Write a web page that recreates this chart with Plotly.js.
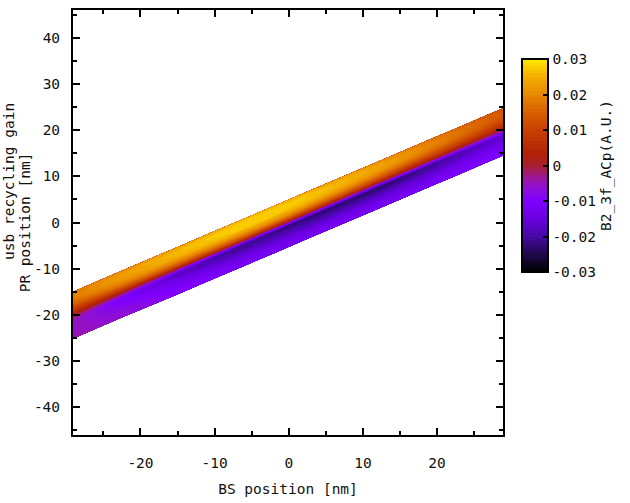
<!DOCTYPE html>
<html>
<head>
<meta charset="utf-8">
<script src="https://cdn.plot.ly/plotly-3.0.1.min.js"></script>
<style>
html,body{margin:0;padding:0;background:#fff;}
#chart{width:630px;height:503px;}
</style>
</head>
<body>
<div id="chart"></div>
<script>
// ---- data ----
// BS positions (nm) where the band was sampled
const bsPos = [-29.1, -22, -15, -8, -1, 6, 13, 20, 28.9];
// band edges in PR position (nm) at each BS position
const bandUpper = [-15.0, -10.1, -5.3, -0.5, 4.3, 9.1, 13.9, 18.7, 24.8];
const bandLower = [-25.2, -20.3, -15.6, -10.8, -6.0, -1.2, 3.6, 8.4, 14.5];
// fractional position across the band (0 = lower edge, 1 = upper edge)
const bandFrac = [0, 0.1, 0.2, 0.3, 0.4, 0.45, 0.5, 0.55, 0.6, 0.7, 0.8, 0.9, 1.0];
// B2_3f_ACp signal across the band, one list per BS position
const signalByBS = [
  [-0.004, -0.005, -0.005, -0.005, -0.004, -0.002, 0.001, 0.004, 0.008, 0.013, 0.017, 0.019, 0.018],
  [-0.006, -0.007, -0.008, -0.010, -0.011, -0.009, -0.003, 0.004, 0.010, 0.018, 0.022, 0.023, 0.021],
  [-0.009, -0.010, -0.012, -0.014, -0.017, -0.016, -0.008, 0.003, 0.011, 0.020, 0.025, 0.026, 0.023],
  [-0.011, -0.012, -0.014, -0.017, -0.020, -0.020, -0.011, 0.004, 0.012, 0.022, 0.027, 0.028, 0.025],
  [-0.012, -0.013, -0.015, -0.018, -0.021, -0.022, -0.012, 0.004, 0.012, 0.022, 0.027, 0.028, 0.025],
  [-0.012, -0.013, -0.015, -0.019, -0.022, -0.023, -0.013, 0.003, 0.011, 0.020, 0.025, 0.026, 0.023],
  [-0.012, -0.013, -0.015, -0.018, -0.022, -0.023, -0.013, 0.002, 0.009, 0.017, 0.022, 0.023, 0.020],
  [-0.011, -0.012, -0.014, -0.017, -0.020, -0.020, -0.011, 0.001, 0.007, 0.014, 0.018, 0.019, 0.017],
  [-0.010, -0.011, -0.012, -0.014, -0.016, -0.015, -0.008, 0.000, 0.005, 0.010, 0.013, 0.014, 0.013]
];
// tick labels
const xTickVals = [-20, -10, 0, 10, 20];
const xTickText = ['-20', '-10', '0', '10', '20'];
const yTickVals = [-40, -30, -20, -10, 0, 10, 20, 30, 40];
const yTickText = ['-40', '-30', '-20', '-10', '0', '10', '20', '30', '40'];
const cbTickVals = [-0.03, -0.02, -0.01, 0, 0.01, 0.02, 0.03];
const cbTickText = ['-0.03', '-0.02', '-0.01', '0', '0.01', '0.02', '0.03'];

// ---- build the carpet grid tables (rows along band fraction, columns along BS) ----
const gridX = bandFrac.map(() => bsPos.slice());
const gridY = bandFrac.map(f => bsPos.map((_, i) => bandLower[i] + f * (bandUpper[i] - bandLower[i])));
const gridZ = bandFrac.map((_, j) => bsPos.map((_, i) => signalByBS[i][j]));

const FONT = 'DejaVu Sans Mono, monospace';
const fnt = {family: FONT, size: 14.5, color: '#111'};

const palette = [
  [0.00, '#000000'],
  [0.08, '#1e0848'],
  [0.17, '#4808a8'],
  [0.25, '#6a00e0'],
  [0.333, '#8000ff'],
  [0.40, '#9010d0'],
  [0.45, '#a01890'],
  [0.50, '#a82030'],
  [0.55, '#b02008'],
  [0.667, '#c84000'],
  [0.75, '#d86000'],
  [0.833, '#e88800'],
  [0.92, '#f4b000'],
  [1.00, '#ffe800']
];

const hiddenAxis = {
  showgrid: false, showline: false, showticklabels: 'none',
  startline: false, endline: false, minorgridcount: 0,
  gridcolor: 'rgba(0,0,0,0)', linecolor: 'rgba(0,0,0,0)'
};

const traces = [
  {
    type: 'carpet', carpet: 'band',
    a: bsPos, b: bandFrac, x: gridX, y: gridY,
    aaxis: hiddenAxis, baxis: hiddenAxis,
    hoverinfo: 'skip'
  },
  {
    type: 'contourcarpet', carpet: 'band',
    a: bsPos, b: bandFrac, z: gridZ,
    autocontour: false,
    zmin: -0.03, zmax: 0.03,
    contours: {start: -0.03, end: 0.03, size: 0.001, coloring: 'fill', showlines: false},
    line: {width: 0},
    colorscale: palette,
    colorbar: {
      x: (522 - 73) / 430, xanchor: 'left', xpad: 0, ypad: 0,
      y: 1 - (165.5 - 10) / 425, yanchor: 'middle',
      len: 213, lenmode: 'pixels', thickness: 26, thicknessmode: 'pixels',
      outlinewidth: 2, outlinecolor: '#000',
      tickmode: 'array', tickvals: cbTickVals, ticktext: cbTickText,
      ticks: 'inside', ticklen: 6, tickwidth: 2, tickcolor: '#000',
      tickfont: fnt, ticklabelstandoff: 3,
      title: {text: 'B2_3f_ACp(A.U.)', side: 'right', font: fnt}
    }
  }
];

const axisCommon = {
  showline: true, linecolor: '#000', linewidth: 2, mirror: 'allticks',
  ticks: 'inside', ticklen: 7, tickwidth: 2, tickcolor: '#000',
  showgrid: false, zeroline: false, tickfont: fnt,
  minor: {ticks: 'inside', ticklen: 4, tickwidth: 2, tickcolor: '#000', tickmode: 'linear', tick0: 0, dtick: 5, showgrid: false}
};

const layout = {
  width: 630, height: 503,
  margin: {l: 73, r: 127, t: 10, b: 68},
  paper_bgcolor: '#fff', plot_bgcolor: '#fff',
  font: fnt,
  showlegend: false,
  xaxis: Object.assign({}, axisCommon, {
    range: [-29.1, 28.9], tickmode: 'array', tickvals: xTickVals, ticktext: xTickText,
    ticklabelstandoff: 14,
    title: {text: 'BS position [nm]', font: fnt, standoff: 13}
  }),
  yaxis: Object.assign({}, axisCommon, {
    range: [-46.1, 46.1], tickmode: 'array', tickvals: yTickVals, ticktext: yTickText,
    ticklabelstandoff: 8,
    title: {text: 'PR position [nm]', font: fnt, standoff: 0}
  }),
  annotations: [{
    text: 'usb recycling gain', xref: 'paper', yref: 'paper',
    x: (9 - 73) / 430, y: 1 - (182 - 10) / 425, xanchor: 'center', yanchor: 'middle',
    textangle: -90, showarrow: false, font: fnt
  }]
};

Plotly.newPlot('chart', traces, layout, {displayModeBar: false, staticPlot: true});
</script>
</body>
</html>
